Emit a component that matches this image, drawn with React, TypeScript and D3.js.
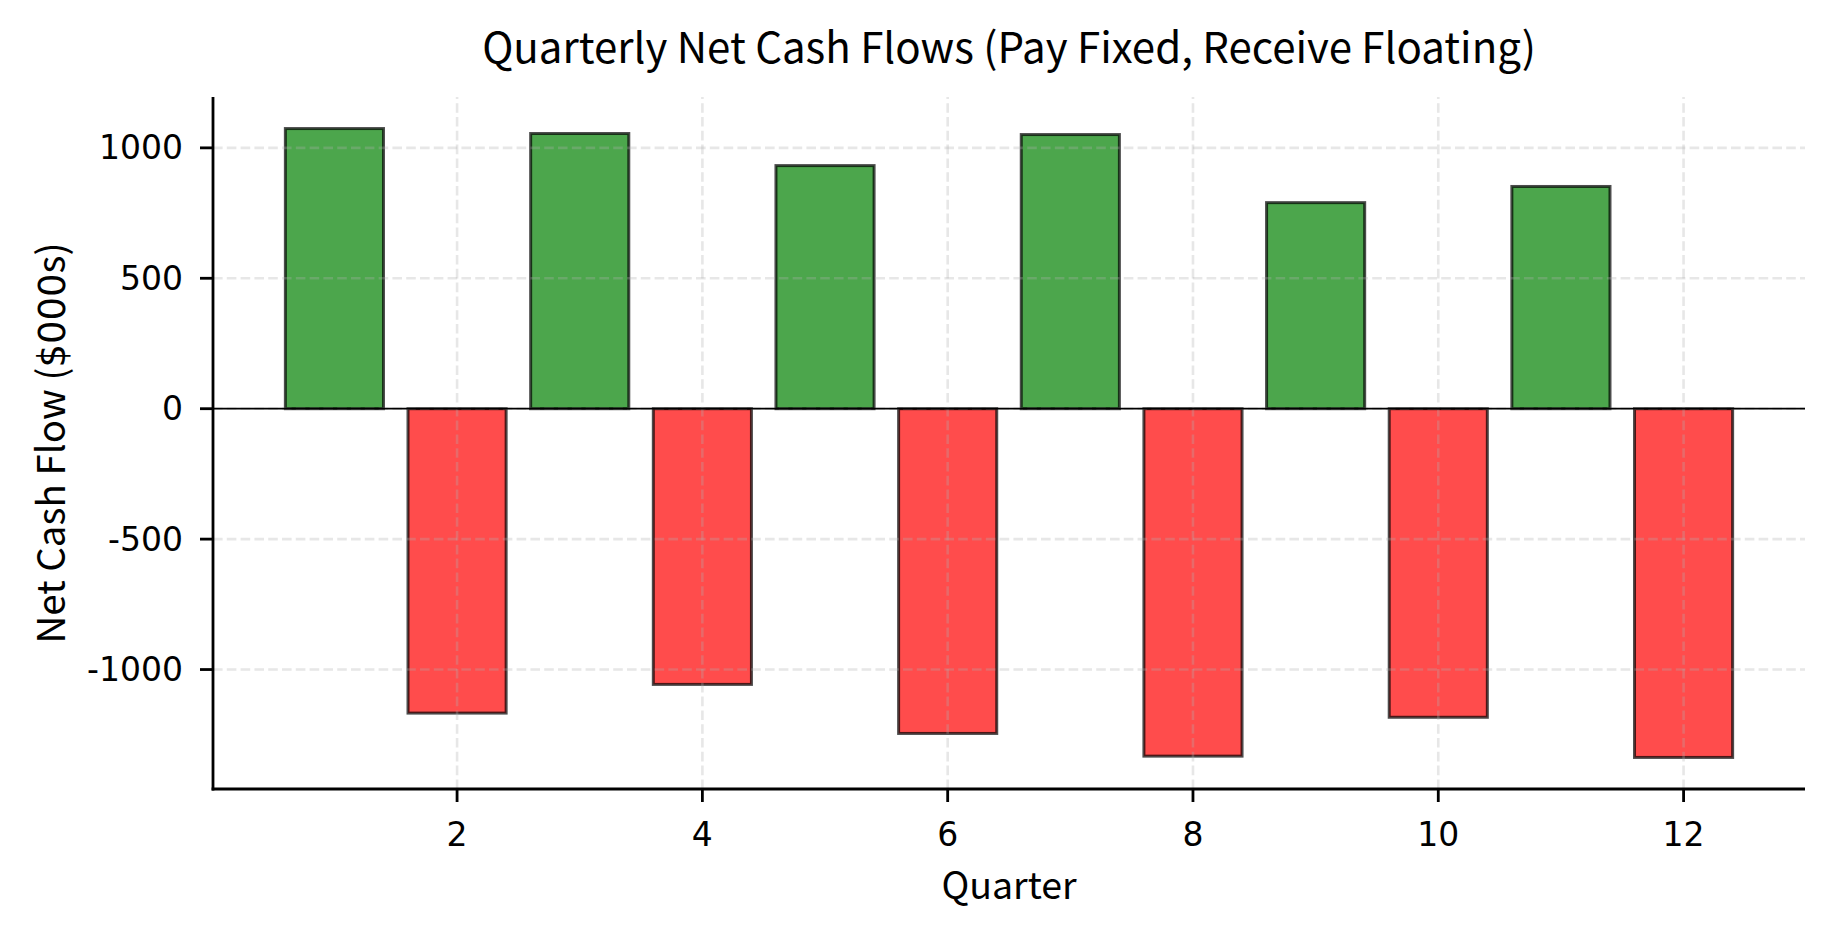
import React, { useEffect } from 'react';
import * as d3 from 'd3';

const quarters = [1, 2, 3, 4, 5, 6, 7, 8, 9, 10, 11, 12];
const netCashFlows = [1074, -1167, 1055, -1057, 932, -1245, 1051, -1332, 790, -1183, 852, -1337];
const xTickValues = [2, 4, 6, 8, 10, 12];
const yTickValues = [-1000, -500, 0, 500, 1000];
const chartTitle = 'Quarterly Net Cash Flows (Pay Fixed, Receive Floating)';
const xAxisLabel = 'Quarter';
const yAxisLabelParts = ['Net Cash Flow (', '$000', 's)'];

const W = 1834;
const H = 934;
const FONT = '"Noto Sans CJK KR", "Noto Sans", sans-serif';
const DIGIT_FONT = '"DejaVu Sans", sans-serif';

export default function App() {
  useEffect(() => {
    document.body.style.margin = '0';
  }, []);

  const left = 213, right = 1805, top = 97, bottom = 789;
  const x = d3.scaleLinear().domain([0.01, 12.99]).range([left, right]);
  const y = d3.scaleLinear().domain([-1458, 1195]).range([bottom, top]);
  const barW = 0.8;

  return (
    <svg width={W} height={H} style={{ display: 'block', background: '#fff' }} fontFamily={FONT}>
      {/* bars */}
      {quarters.map((q, i) => {
        const v = netCashFlows[i];
        const x0 = x(q - barW / 2);
        const x1 = x(q + barW / 2);
        const y0 = y(Math.max(v, 0));
        const y1 = y(Math.min(v, 0));
        return (
          <rect
            key={q}
            x={x0}
            y={y0}
            width={x1 - x0}
            height={y1 - y0}
            fill={v >= 0 ? 'rgb(0,128,0)' : 'rgb(255,0,0)'}
            fillOpacity={0.7}
            stroke="#000"
            strokeOpacity={0.7}
            strokeWidth={3}
          />
        );
      })}
      {/* grid */}
      <g stroke="#b0b0b0" strokeOpacity={0.3} strokeWidth={2.6} strokeDasharray="9.6 4.2">
        {yTickValues.map((t) => (
          <line key={'gy' + t} x1={left} x2={right} y1={y(t)} y2={y(t)} />
        ))}
        {xTickValues.map((t) => (
          <line key={'gx' + t} x1={x(t)} x2={x(t)} y1={bottom} y2={top} />
        ))}
      </g>
      {/* zero line */}
      <line x1={left} x2={right} y1={y(0)} y2={y(0)} stroke="#000" strokeWidth={1.8} />
      {/* spines */}
      <line x1={left} x2={left} y1={top} y2={bottom + 1.4} stroke="#000" strokeWidth={2.8} />
      <line x1={left - 1.4} x2={right} y1={bottom} y2={bottom} stroke="#000" strokeWidth={2.8} />
      {/* y ticks */}
      {yTickValues.map((t) => (
        <g key={'yt' + t}>
          <line x1={left - 13} x2={left} y1={y(t)} y2={y(t)} stroke="#000" strokeWidth={2.8} />
          <text
            x={left - 30}
            y={y(t)}
            textAnchor="end"
            dominantBaseline="central"
            fontSize={33}
            fontFamily={DIGIT_FONT}
            fill="#000"
          >
            {t < 0 ? '-' + Math.abs(t) : String(t)}
          </text>
        </g>
      ))}
      {/* x ticks */}
      {xTickValues.map((t) => (
        <g key={'xt' + t}>
          <line x1={x(t)} x2={x(t)} y1={bottom} y2={bottom + 13} stroke="#000" strokeWidth={2.8} />
          <text x={x(t)} y={846} textAnchor="middle" fontSize={33} fontFamily={DIGIT_FONT} fill="#000">
            {t}
          </text>
        </g>
      ))}
      {/* labels */}
      <text x={(left + right) / 2} y={899} textAnchor="middle" fontSize={37.5} fill="#000">
        {xAxisLabel}
      </text>
      <text
        transform={`translate(65, ${(top + bottom) / 2}) rotate(-90)`}
        textAnchor="middle"
        fontSize={38.5}
        fill="#000"
      >
        <tspan>{yAxisLabelParts[0]}</tspan>
        <tspan fontFamily={DIGIT_FONT} fontSize={37}>{yAxisLabelParts[1]}</tspan>
        <tspan>{yAxisLabelParts[2]}</tspan>
      </text>
      <text x={(left + right) / 2} y={63} textAnchor="middle" fontSize={42} fill="#000">
        {chartTitle}
      </text>
    </svg>
  );
}
